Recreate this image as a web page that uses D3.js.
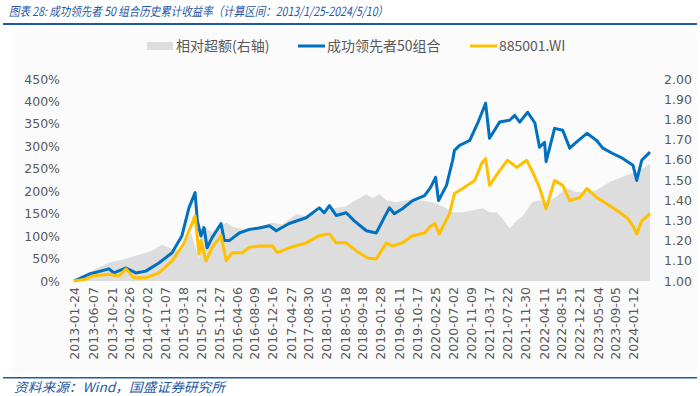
<!DOCTYPE html>
<html>
<head>
<meta charset="utf-8">
<script src="https://cdn.jsdelivr.net/npm/d3@7"></script>
<style>
  body { margin: 0; background: #fff; }
  svg { display: block; }
</style>
</head>
<body>
<div id="chart"></div>
<script>
// tick labels on the date axis
const tickDates = ['2013-01-24','2013-06-07','2013-10-21','2014-02-26','2014-07-02','2014-11-07',
  '2015-03-18','2015-07-21','2015-11-27','2016-04-06','2016-08-09','2016-12-16','2017-04-27',
  '2017-08-30','2018-01-05','2018-05-18','2018-09-18','2019-01-28','2019-06-11','2019-10-17',
  '2020-02-25','2020-07-02','2020-11-09','2021-03-17','2021-07-22','2021-11-30','2022-04-11',
  '2022-08-15','2022-12-21','2023-05-04','2023-09-05','2024-01-12'];

const leftTicks = [0, 0.5, 1, 1.5, 2, 2.5, 3, 3.5, 4, 4.5];
const rightTicks = [1.0, 1.1, 1.2, 1.3, 1.4, 1.5, 1.6, 1.7, 1.8, 1.9, 2.0];

// 成功领先者50组合 cumulative return
const portfolioDates = ['2013-01-24','2013-05-09','2013-10-01','2013-11-06','2014-02-01','2014-04-11',
  '2014-06-22','2014-09-24','2014-12-27','2015-03-07','2015-04-27','2015-06-10','2015-06-26',
  '2015-07-22','2015-08-13','2015-09-04','2015-10-09','2015-12-13','2016-01-05','2016-02-10',
  '2016-04-21','2016-07-02','2016-09-12','2016-11-23','2017-01-11','2017-04-13','2017-08-13',
  '2017-11-15','2017-12-20','2018-01-27','2018-03-16','2018-05-27','2018-07-24','2018-10-18',
  '2018-12-28','2019-02-11','2019-04-01','2019-05-06','2019-07-03','2019-09-14','2019-12-09',
  '2020-01-20','2020-02-26','2020-03-18','2020-05-14','2020-06-27','2020-07-10','2020-08-16',
  '2020-10-27','2020-12-24','2021-02-18','2021-03-18','2021-05-29','2021-08-09','2021-09-14',
  '2021-10-20','2021-12-16','2022-02-06','2022-03-11','2022-04-16','2022-04-27','2022-06-27',
  '2022-08-24','2022-10-13','2022-11-28','2023-02-13','2023-04-24','2023-06-07','2023-08-17',
  '2023-10-28','2024-01-09','2024-02-05','2024-03-12','2024-05-10'];
const portfolioValues = [0, 0.15, 0.27, 0.18, 0.29, 0.18,
  0.22, 0.40, 0.63, 1.00, 1.63, 1.97, 1.34,
  1.00, 1.19, 0.74, 0.96, 1.28, 0.90, 0.90,
  1.07, 1.15, 1.18, 1.23, 1.12, 1.28, 1.41,
  1.63, 1.52, 1.68, 1.46, 1.52, 1.34, 1.12,
  1.07, 1.34, 1.63, 1.50, 1.61, 1.79, 1.90,
  2.08, 2.31, 1.79, 2.13, 2.69, 2.91, 3.02,
  3.13, 3.52, 3.96, 3.18, 3.54, 3.58, 3.69,
  3.54, 3.76, 3.52, 2.98, 3.09, 2.66, 3.40,
  3.36, 2.96, 3.09, 3.29, 3.13, 2.96, 2.84,
  2.73, 2.58, 2.24, 2.69, 2.87];

// 885001.WI cumulative return
const indexDates = ['2013-01-24','2013-04-18','2013-06-01','2013-10-01','2013-12-12','2014-02-01',
  '2014-03-28','2014-06-22','2014-09-24','2014-12-27','2015-03-21','2015-06-10','2015-07-08',
  '2015-07-22','2015-08-27','2015-10-09','2015-12-13','2016-01-19','2016-03-01','2016-05-12',
  '2016-07-02','2016-09-12','2016-12-15','2017-01-18','2017-04-13','2017-08-13','2017-11-15',
  '2018-01-27','2018-03-16','2018-05-27','2018-08-08','2018-10-26','2018-12-28','2019-03-10',
  '2019-04-22','2019-07-03','2019-09-14','2019-12-09','2020-01-20','2020-02-20','2020-03-23',
  '2020-06-05','2020-07-10','2020-09-07','2020-12-02','2021-01-21','2021-02-18','2021-03-18',
  '2021-05-29','2021-07-25','2021-09-28','2021-12-09','2022-01-22','2022-03-11','2022-04-27',
  '2022-06-27','2022-08-24','2022-10-13','2022-12-25','2023-02-13','2023-04-24','2023-07-05',
  '2023-09-16','2023-11-27','2024-01-09','2024-02-05','2024-03-12','2024-05-10'];
const indexValues = [0, 0.04, 0.11, 0.15, 0.11, 0.27,
  0.07, 0.07, 0.18, 0.45, 0.83, 1.45, 0.60,
  0.90, 0.45, 0.74, 1.01, 0.45, 0.63, 0.63,
  0.75, 0.78, 0.78, 0.63, 0.74, 0.85, 1.01,
  1.05, 0.85, 0.85, 0.67, 0.51, 0.49, 0.85,
  0.78, 0.85, 1.01, 1.07, 1.22, 1.28, 1.05,
  1.50, 1.95, 2.06, 2.24, 2.62, 2.73, 2.13,
  2.46, 2.69, 2.53, 2.69, 2.42, 2.08, 1.61,
  2.24, 2.13, 1.79, 1.86, 2.06, 1.86, 1.72,
  1.57, 1.41, 1.23, 1.05, 1.34, 1.50];

// 相对超额 (right axis)
const excessDates = ['2013-01-24','2013-06-01','2013-10-01','2014-02-01','2014-05-03','2014-08-05',
  '2014-10-16','2014-12-27','2015-03-07','2015-05-11','2015-07-08','2015-07-29','2015-10-09',
  '2016-01-19','2016-03-01','2016-06-10','2016-09-12','2016-12-15','2017-02-23','2017-06-02',
  '2017-08-13','2017-11-15','2018-02-18','2018-05-27','2018-07-09','2018-10-18','2018-12-01',
  '2019-01-20','2019-03-10','2019-05-20','2019-08-01','2019-11-03','2020-02-05','2020-04-16',
  '2020-06-27','2020-09-07','2020-11-18','2021-01-28','2021-03-18','2021-05-07','2021-06-19',
  '2021-08-09','2021-09-28','2021-11-11','2022-01-15','2022-03-11','2022-05-08','2022-07-12',
  '2022-09-22','2022-11-28','2023-02-13','2023-04-24','2023-07-27','2023-10-07','2023-12-18',
  '2024-02-05','2024-04-18','2024-05-10'];
const excessValues = [1.00, 1.05, 1.09, 1.11, 1.13, 1.15,
  1.18, 1.16, 1.15, 1.24, 1.11, 1.28, 1.24,
  1.29, 1.27, 1.25, 1.27, 1.29, 1.28, 1.33,
  1.32, 1.34, 1.36, 1.37, 1.39, 1.43, 1.41,
  1.43, 1.40, 1.39, 1.40, 1.40, 1.39, 1.37,
  1.34, 1.34, 1.35, 1.36, 1.34, 1.34, 1.31,
  1.26, 1.30, 1.32, 1.39, 1.40, 1.39, 1.42,
  1.46, 1.44, 1.44, 1.45, 1.49, 1.51, 1.53,
  1.54, 1.57, 1.58];

const seriesNames = ['相对超额(右轴)', '成功领先者50组合', '885001.WI'];
const colors = ['#dddddd', '#0070c0', '#ffc000'];

const width = 700, height = 396;
const parse = d3.timeParse('%Y-%m-%d');
const fmt = d3.timeFormat('%Y-%m-%d');

let svg = d3.select('#chart').append('svg').attr('width', width).attr('height', height);

// faint panel behind the chart, as in the report
svg.append('rect').attr('x', 11).attr('y', 30).attr('width', 686).attr('height', 344).attr('fill', '#fbfbfb');

// header and footer
svg.append('text').attr('x', 9).attr('y', 16)
  .attr('font-family', '"Noto Sans CJK SC", sans-serif').attr('font-style', 'italic')
  .attr('font-size', 12.5).attr('fill', '#2457a4')
  .attr('textLength', 379).attr('lengthAdjust', 'spacingAndGlyphs')
  .text('图表 28:  成功领先者 50 组合历史累计收益率（计算区间：2013/1/25-2024/5/10）');
svg.append('rect').attr('x', 3).attr('y', 23).attr('width', 694).attr('height', 2).attr('fill', '#1f5aa6');
svg.append('rect').attr('x', 3).attr('y', 377).attr('width', 694).attr('height', 1.5).attr('fill', '#1f5aa6');
svg.append('text').attr('x', 14).attr('y', 392)
  .attr('font-family', '"Noto Sans CJK SC", sans-serif').attr('font-style', 'italic')
  .attr('font-size', 13).attr('fill', '#2457a4')
  .attr('textLength', 211).attr('lengthAdjust', 'spacingAndGlyphs')
  .text('资料来源：Wind，国盛证券研究所');

// scales
let x = d3.scaleTime().domain([parse('2013-01-24'), parse('2024-05-10')]).range([74, 650]);
let yLeft = d3.scaleLinear().domain([0, 4.5]).range([281, 79]);
let yRight = d3.scaleLinear().domain([1, 2]).range([281, 79]);

let excess = excessDates.map((d, i) => ({date: parse(d), value: excessValues[i]}));
let portfolio = portfolioDates.map((d, i) => ({date: parse(d), value: portfolioValues[i]}));
let index = indexDates.map((d, i) => ({date: parse(d), value: indexValues[i]}));

svg.append('path').datum(excess)
  .attr('fill', colors[0])
  .attr('d', d3.area().x(d => x(d.date)).y0(yRight(1)).y1(d => yRight(d.value)));

let line = d3.line().x(d => x(d.date)).y(d => yLeft(d.value));
svg.append('path').datum(portfolio)
  .attr('fill', 'none').attr('stroke', colors[1]).attr('stroke-width', 3)
  .attr('stroke-linejoin', 'round').attr('d', line);
svg.append('path').datum(index)
  .attr('fill', 'none').attr('stroke', colors[2]).attr('stroke-width', 3)
  .attr('stroke-linejoin', 'round').attr('d', line);

// axes
const axisFont = '"DejaVu Sans", sans-serif';
let gl = svg.append('g').attr('transform', 'translate(60,0)')
  .call(d3.axisLeft(yLeft).tickValues(leftTicks).tickFormat(d3.format('.0%')).tickSize(0).tickPadding(0));
let gr = svg.append('g').attr('transform', 'translate(664,0)')
  .call(d3.axisRight(yRight).tickValues(rightTicks).tickFormat(d3.format('.2f')).tickSize(0).tickPadding(0));
let gx = svg.append('g').attr('transform', 'translate(0,287)')
  .call(d3.axisBottom(x).tickValues(tickDates.map(parse)).tickFormat(fmt).tickSize(0).tickPadding(0));

[gl, gr, gx].forEach(g => {
  g.select('.domain').remove();
  g.selectAll('text').attr('font-family', axisFont).attr('font-size', 12.5).attr('fill', '#595959');
});
gx.selectAll('text')
  .attr('transform', 'rotate(-90)')
  .attr('text-anchor', 'end')
  .attr('x', 0).attr('y', 0).attr('dy', '0.35em');

// legend
let legend = svg.append('g').attr('font-family', '"Noto Sans CJK SC", sans-serif')
  .attr('font-size', 14).attr('fill', '#595959');
const legendX = [147, 298, 470];
seriesNames.forEach((name, i) => {
  let g = legend.append('g').attr('transform', 'translate(' + legendX[i] + ',46)');
  if (i === 0) {
    g.append('rect').attr('x', 0).attr('y', -4).attr('width', 26).attr('height', 8).attr('fill', colors[0]);
  } else {
    g.append('rect').attr('x', 0).attr('y', -1.5).attr('width', 27).attr('height', 3).attr('fill', colors[i]);
  }
  g.append('text').attr('x', 29).attr('y', 0).attr('dy', '0.35em').text(name);
});
</script>
</body>
</html>
